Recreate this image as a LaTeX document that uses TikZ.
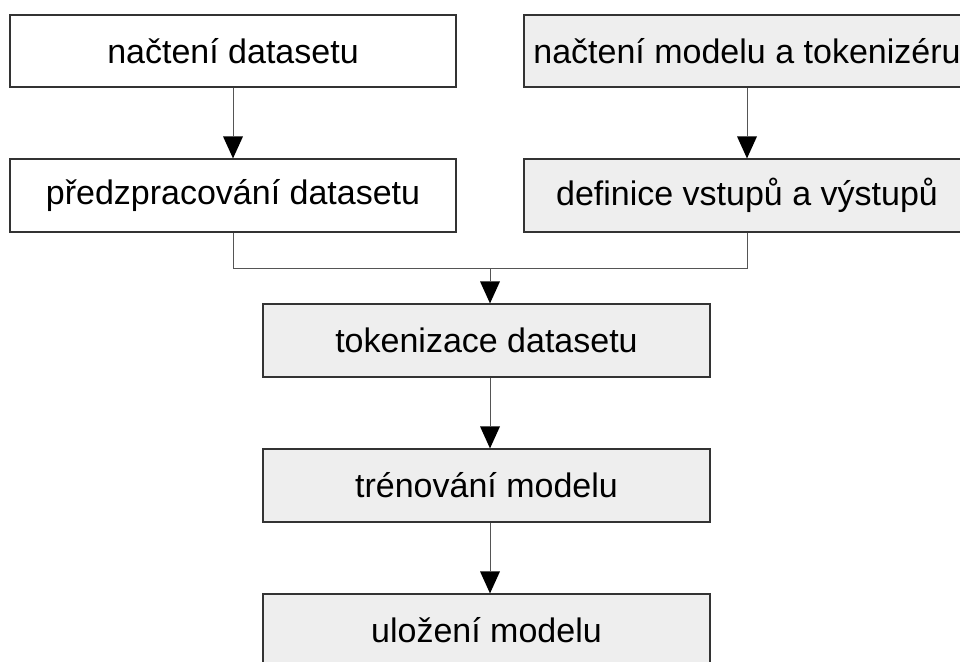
\documentclass[tikz,border=0pt]{standalone}
\usepackage{fontspec}
\setmainfont{Liberation Sans}
\usetikzlibrary{arrows.meta}
\definecolor{boxline}{HTML}{333333}
\definecolor{arrline}{HTML}{555555}
\definecolor{boxfill}{HTML}{EEEEEE}
\tikzset{
  flowbox/.style={draw=boxline, line width=1.2pt, rectangle, minimum width=446pt, minimum height=72pt, inner sep=0pt, font=\fontsize{34}{40}\selectfont, text=black},
  whitebox/.style={flowbox, fill=white},
  graybox/.style={flowbox, fill=boxfill},
  conn/.style={draw=arrline, line width=1pt, -{Triangle[width=20pt,length=22pt,fill=black,line width=0pt]}},
  plainconn/.style={draw=arrline, line width=1pt}
}
\begin{document}
\begin{tikzpicture}[x=1pt,y=-1pt]
\useasboundingbox (0,0) rectangle (960,661);
\clip (0,0) rectangle (960,661);
\fill[white] (0,0) rectangle (960,661);
\node[whitebox] (nd) at (233,51) {načtení datasetu};
\node[graybox] (nm) at (747,51) {načtení modelu a tokenizéru};
\node[whitebox, minimum height=73pt] (pd) at (233,195.5) {předzpracování datasetu};
\node[graybox, minimum height=73pt] (dv) at (747,195.5) {definice vstupů a výstupů};
\node[graybox, minimum width=447pt, minimum height=73pt] (tk) at (486.5,340.5) {tokenizace datasetu};
\node[graybox, minimum width=447pt, minimum height=73pt] (tr) at (486.5,485.5) {trénování modelu};
\node[graybox, minimum width=447pt, minimum height=73pt] (ul) at (486.5,630.5) {uložení modelu};
\coordinate (j) at (490,268);
\draw[conn] (nd) -- (pd);
\draw[conn] (nm) -- (dv);
\draw[plainconn] (pd.south) |- (j);
\draw[plainconn] (dv.south) |- (j);
\draw[conn] (j) -- (tk.north -| j);
\draw[conn] (tk.south -| j) -- (tr.north -| j);
\draw[conn] (tr.south -| j) -- (ul.north -| j);
\end{tikzpicture}
\end{document}
